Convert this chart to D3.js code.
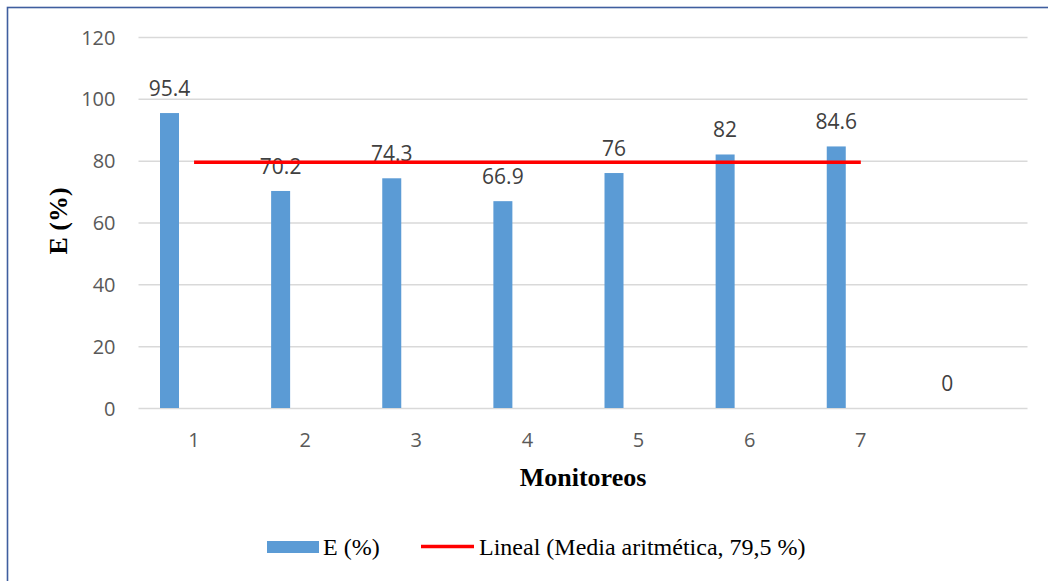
<!DOCTYPE html>
<html>
<head>
<meta charset="utf-8">
<script src="https://cdn.jsdelivr.net/npm/d3@7"></script>
<style>
  html, body { margin: 0; padding: 0; background: #ffffff; }
  svg { display: block; }
</style>
</head>
<body>
<svg id="chart" width="1048" height="581"></svg>
<script>
// Monitoring rounds (the last slot is an empty category holding a zero)
const categories = ["1", "2", "3", "4", "5", "6", "7", ""];
const efficiency = [95.4, 70.2, 74.3, 66.9, 76, 82, 84.6, 0];
const yTicks = [0, 20, 40, 60, 80, 100, 120];
// Arithmetic mean, drawn across rounds 1..7
const meanValue = 79.5;
const meanSpan = ["1", "7"];
const seriesName = "E (%)";
const meanName = "Lineal (Media aritmética, 79,5 %)";

const svg = d3.select("#chart");
const plot = { left: 138.5, right: 1027.5, top: 37, bottom: 408 };

// Frame around the chart (runs off the right and bottom edges)
svg.append("rect")
  .attr("x", 7.5).attr("y", 7.5)
  .attr("width", 1100).attr("height", 700)
  .attr("fill", "none")
  .attr("stroke", "#3f5e9f")
  .attr("stroke-width", 1.6);

const x = d3.scaleBand().domain(categories).range([plot.left, plot.right]).padding(0);
const y = d3.scaleLinear().domain([0, 120]).range([plot.bottom, plot.top]);
const bw = x.bandwidth();
const barOffset = bw * 0.1935;
const barWidth = bw * 0.171;

const numFont = "'Open Sans', 'Noto Sans', sans-serif";
const serif = "'Liberation Serif', 'Times New Roman', serif";

// Horizontal gridlines
const yAxis = d3.axisLeft(y).tickValues(yTicks).tickSize(-(plot.right - plot.left)).tickPadding(23);
const gy = svg.append("g").attr("transform", `translate(${plot.left},0)`).call(yAxis);
gy.select(".domain").remove();
gy.selectAll(".tick line").attr("stroke", "#d9d9d9").attr("stroke-width", 1.5);
gy.selectAll(".tick text")
  .attr("fill", "#595959")
  .attr("font-family", numFont)
  .attr("font-size", 20)
  .attr("dy", "0.35em");

// Category labels
const xAxis = d3.axisBottom(x).tickSize(0).tickPadding(0);
const gx = svg.append("g").attr("transform", `translate(0,${plot.bottom})`).call(xAxis);
gx.select(".domain").remove();
gx.selectAll(".tick text")
  .attr("fill", "#595959")
  .attr("font-family", numFont)
  .attr("font-size", 20)
  .attr("dy", null)
  .attr("y", 39);

// Bars
svg.append("g").selectAll("rect")
  .data(categories.map((c, i) => ({ c, v: efficiency[i] })))
  .join("rect")
  .attr("x", d => x(d.c) + barOffset)
  .attr("y", d => y(d.v))
  .attr("width", barWidth)
  .attr("height", d => y(0) - y(d.v))
  .attr("fill", "#5b9bd5");

// Value labels
svg.append("g").selectAll("text")
  .data(categories.map((c, i) => ({ c, v: efficiency[i] })))
  .join("text")
  .attr("x", d => x(d.c) + barOffset + barWidth / 2)
  .attr("y", d => y(d.v) - 17)
  .attr("text-anchor", "middle")
  .attr("fill", "#404040")
  .attr("font-family", numFont)
  .attr("font-size", 21)
  .text(d => d3.format("")(d.v));

// Mean line
svg.append("line")
  .attr("x1", x(meanSpan[0]) + bw / 2)
  .attr("x2", x(meanSpan[1]) + bw / 2)
  .attr("y1", y(meanValue))
  .attr("y2", y(meanValue))
  .attr("stroke", "#ff0000")
  .attr("stroke-width", 3.5);

// Axis titles
svg.append("text")
  .attr("transform", `translate(67,221) rotate(-90)`)
  .attr("text-anchor", "middle")
  .attr("font-family", serif)
  .attr("font-weight", "bold")
  .attr("font-size", 26)
  .attr("fill", "#000")
  .text("E (%)");

svg.append("text")
  .attr("x", (plot.left + plot.right) / 2)
  .attr("y", 486)
  .attr("text-anchor", "middle")
  .attr("font-family", serif)
  .attr("font-weight", "bold")
  .attr("font-size", 26)
  .attr("fill", "#000")
  .text("Monitoreos");

// Legend
const lg = svg.append("g");
lg.append("rect")
  .attr("x", 267).attr("y", 541)
  .attr("width", 52).attr("height", 12)
  .attr("fill", "#5b9bd5");
lg.append("text")
  .attr("x", 323).attr("y", 555)
  .attr("font-family", serif).attr("font-size", 24).attr("fill", "#000")
  .text(seriesName);
lg.append("line")
  .attr("x1", 421).attr("x2", 474)
  .attr("y1", 546.5).attr("y2", 546.5)
  .attr("stroke", "#ff0000").attr("stroke-width", 3.5);
lg.append("text")
  .attr("x", 479).attr("y", 555)
  .attr("font-family", serif).attr("font-size", 24).attr("fill", "#000")
  .text(meanName);
</script>
</body>
</html>
